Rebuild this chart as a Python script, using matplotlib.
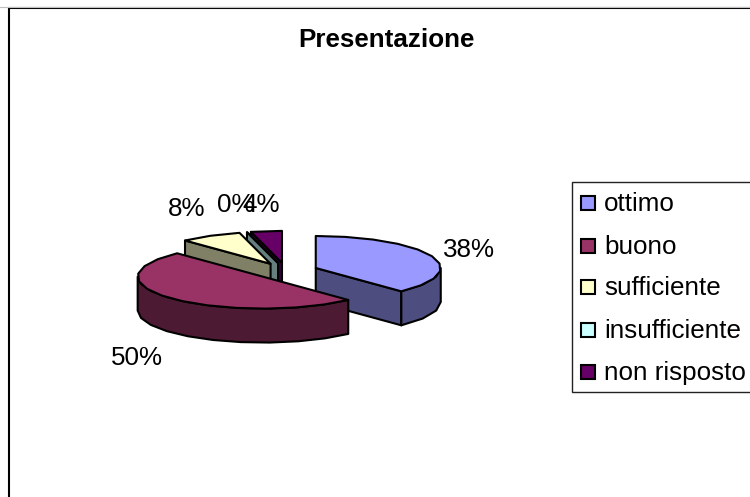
import numpy as np
import matplotlib
matplotlib.use('Agg')
import matplotlib.pyplot as plt
from matplotlib.patches import Polygon, Rectangle

plt.rcParams['font.family'] = ['Liberation Sans', 'DejaVu Sans']

title = 'Presentazione'
labels = ['ottimo', 'buono', 'sufficiente', 'insufficiente', 'non risposto']
values = [38, 50, 8, 0, 4]
top_colors = ['#9999FF', '#993366', '#FFFFCC', '#CCFFFF', '#660066']
side_colors = ['#4D4D80', '#4D1A33', '#808066', '#668080', '#330033']
label_pos = [(469, 250), (137, 358), (187, 209), (236, 205), (261, 205)]

######################################
# pie geometry, all in pixels #
cx = 286
cy = 271
rx = 125
ry = 32
depth = 34
explode = 32
step = 13  # rim is a coarse polygon in the original
######################################


def rim(ang, ox, oy):
    a = np.deg2rad(ang)
    return ox + rx * np.sin(a), oy - ry * np.cos(a)


def arc(a0, a1, ox, oy):
    n = max(int(abs(a1 - a0) / step), 1)
    return [rim(a, ox, oy) for a in np.linspace(a0, a1, n + 1)]


fig = plt.figure(figsize=(7.5, 4.97), dpi=100)
ax = fig.add_axes([0, 0, 1, 1])
ax.set_xlim(0, 750)
ax.set_ylim(497, 0)
ax.axis('off')

ax.add_patch(Rectangle((9, 8), 800, 600, fc='white', ec='black', lw=1.5, zorder=0))
ax.plot([0, 750], [7, 7], color='#c0c0c0', lw=0.8, zorder=0)

ax.text(386, 40, title, ha='center', va='center', fontsize=18.7, fontweight='bold')

# start / end angle of every slice, clockwise from 12 o'clock
edges = np.cumsum([0] + values) / sum(values) * 360

# back to front, like the original paints them
order = [4, 3, 2, 0, 1]
z = 2
for i in order:
    a0, a1 = edges[i], edges[i + 1]
    mid = np.deg2rad((a0 + a1) / 2)
    ox = cx + explode * np.sin(mid)
    oy = cy - explode * ry / rx * np.cos(mid)
    faces = []
    # cut faces which look to the viewer
    if np.sin(np.deg2rad(a0)) < -1e-6:
        x, y = rim(a0, ox, oy)
        faces.append([(ox, oy), (x, y), (x, y + depth), (ox, oy + depth)])
    if np.sin(np.deg2rad(a1)) > 1e-6:
        x, y = rim(a1, ox, oy)
        faces.append([(ox, oy), (x, y), (x, y + depth), (ox, oy + depth)])
    # outer wall, front half only
    w0, w1 = max(a0, 90), min(a1, 270)
    if w1 > w0:
        pts = arc(w0, w1, ox, oy)
        faces.append(pts + [(x, y + depth) for x, y in pts[::-1]])
    for f in faces:
        ax.add_patch(Polygon(f, closed=True, fc=side_colors[i], ec='black', lw=1.5,
                             joinstyle='round', zorder=z))
    top = [(ox, oy)] + arc(a0, a1, ox, oy)
    ax.add_patch(Polygon(top, closed=True, fc=top_colors[i], ec='black', lw=1.5,
                         joinstyle='round', zorder=z))
    z += 1

for i in range(len(values)):
    ax.text(label_pos[i][0], label_pos[i][1], '%d%%' % values[i], ha='center', va='center',
            fontsize=18.7, color='black', zorder=20)

# legend, box runs off the right side of the picture
ax.add_patch(Rectangle((572, 182), 200, 210, fc='white', ec='#222222', lw=1, zorder=20))
leg_y = [204, 247, 288, 331, 373]
for i in range(len(labels)):
    ax.add_patch(Rectangle((581, leg_y[i] - 8), 14, 14, fc=top_colors[i], ec='black', lw=1.5, zorder=21))
    ax.text(604, leg_y[i], labels[i], ha='left', va='center', fontsize=18.7, zorder=21)

fig.savefig('out.png', dpi=100)
